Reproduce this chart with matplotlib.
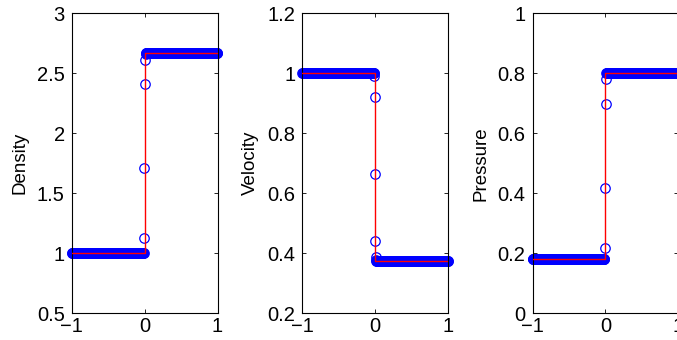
import numpy as np
import matplotlib.pyplot as plt

plt.rcParams['font.family'] = ['Liberation Sans', 'DejaVu Sans']

# grid: cell centres on [-1, 1]
n_cells = 400
x_min, x_max = -1.0, 1.0

# left / right states of the exact solution
density_left, density_right = 1.0, 2.667
velocity_left, velocity_right = 1.0, 0.375
pressure_left, pressure_right = 0.18, 0.80

# numerical values inside the jump (cells around x = 0)
density_jump = [1.0, 1.128, 1.712, 2.413, 2.61, 2.66]
velocity_jump = [0.99, 0.922, 0.665, 0.44, 0.388, 0.378]
pressure_jump = [0.18, 0.219, 0.418, 0.697, 0.781, 0.80]

labels = ['Density', 'Velocity', 'Pressure']
ylims = [(0.5, 3.0), (0.2, 1.2), (0.0, 1.0)]
yticks = [[0.5, 1, 1.5, 2, 2.5, 3],
          [0.2, 0.4, 0.6, 0.8, 1, 1.2],
          [0, 0.2, 0.4, 0.6, 0.8, 1]]
ytick_labels = [['0.5', '1', '1.5', '2', '2.5', '3'],
                ['0.2', '0.4', '0.6', '0.8', '1', '1.2'],
                ['0', '0.2', '0.4', '0.6', '0.8', '1']]

dx = (x_max - x_min) / n_cells
xc = x_min + dx * (np.arange(n_cells) + 0.5)


def numeric_profile(left, right, jump):
    q = np.where(xc < 0, left, right).astype(float)
    k = len(jump)
    i0 = n_cells // 2 - k // 2
    q[i0:i0 + k] = jump
    return q


states = [(density_left, density_right, density_jump),
          (velocity_left, velocity_right, velocity_jump),
          (pressure_left, pressure_right, pressure_jump)]

fig = plt.figure(figsize=(6.77, 3.40), dpi=100)
W, H = 677.0, 340.0
lefts = [71.7, 302.3, 532.5]
ax_w, top, bottom = 145.8, 13.3, 313.3

for i, (left, right, jump) in enumerate(states):
    ax = fig.add_axes([lefts[i] / W, 1 - bottom / H, ax_w / W, (bottom - top) / H])
    q = numeric_profile(left, right, jump)
    ax.plot(xc, q, 'o', mfc='none', mec='b', ms=6.8, mew=0.9, clip_on=False, zorder=2)
    ax.plot([x_min, 0, 0, x_max], [left, left, right, right], '-', color='r', lw=1.0, zorder=3)
    ax.set_xlim(x_min, x_max)
    ax.set_ylim(*ylims[i])
    ax.set_xticks([-1, 0, 1])
    ax.set_xticklabels(['\u22121', '0', '1'])
    ax.set_yticks(yticks[i])
    ax.set_yticklabels(ytick_labels[i])
    ax.tick_params(direction='in', length=3, width=0.6, top=True, right=True,
                   labelsize=14.5)
    ax.tick_params(axis='y', pad=5)
    ax.tick_params(axis='x', pad=3)
    ax.set_ylabel(labels[i], fontsize=13.5, labelpad=6)
    for s in ax.spines.values():
        s.set_linewidth(0.8)

fig.savefig('out.png', dpi=100)
